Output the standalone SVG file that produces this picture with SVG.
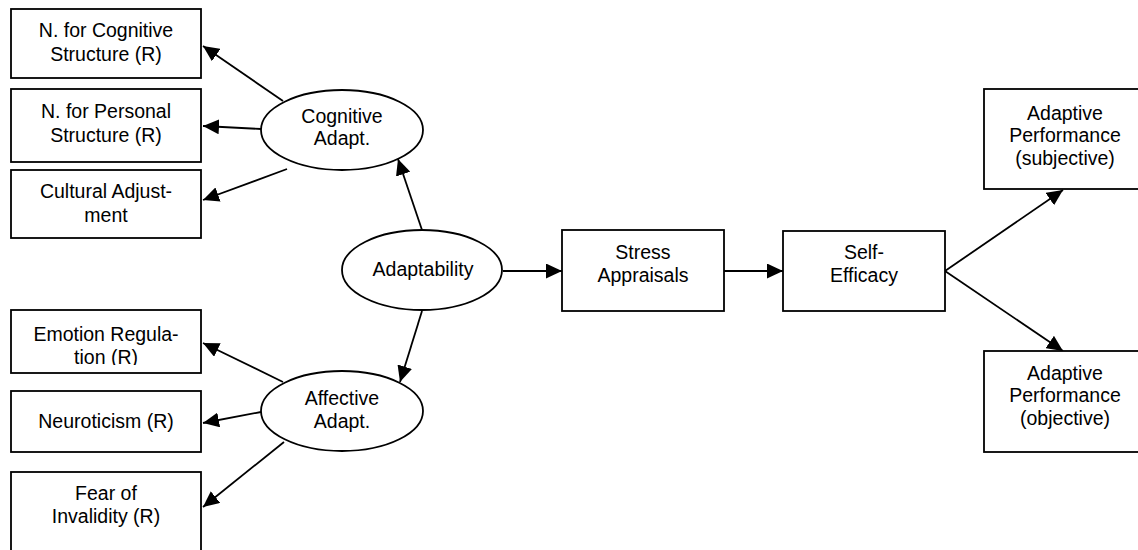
<svg xmlns="http://www.w3.org/2000/svg" width="1138" height="550" viewBox="0 0 1138 550">
  <defs>
    <style>
      .box { fill: #fff; stroke: #000; stroke-width: 1.8; }
      .ell { fill: #fff; stroke: #000; stroke-width: 1.8; }
      .lbl { font-family: "Liberation Sans", Arial, sans-serif; font-size: 19.5px; fill: #000; text-anchor: middle; }
      .edge { fill: none; stroke: #000; stroke-width: 1.8; marker-end: url(#arrow); }
    </style>
    <marker id="arrow" markerUnits="userSpaceOnUse" markerWidth="17" markerHeight="15" refX="16" refY="7.5" orient="auto">
      <path d="M0,0 L16,7.5 L0,15 Z" fill="#000"/>
    </marker>
    <clipPath id="clipEmo">
      <rect x="11" y="310" width="190" height="55"/>
    </clipPath>
  </defs>
  <rect width="1138" height="550" fill="#fff"/>

  <g id="connectors">
    <!-- Cognitive Adapt. to its indicators -->
    <line class="edge" x1="283" y1="101" x2="203" y2="46"/>
    <line class="edge" x1="261" y1="129" x2="203" y2="126"/>
    <line class="edge" x1="287" y1="169" x2="203" y2="200"/>
    <!-- Affective Adapt. to its indicators -->
    <line class="edge" x1="283" y1="382" x2="203" y2="343"/>
    <line class="edge" x1="261" y1="412" x2="203" y2="423"/>
    <line class="edge" x1="284" y1="442" x2="203" y2="507"/>
    <!-- Adaptability to facets -->
    <line class="edge" x1="422" y1="230" x2="398" y2="159"/>
    <line class="edge" x1="422" y1="311" x2="400" y2="382"/>
    <!-- main path -->
    <line class="edge" x1="503" y1="271" x2="562" y2="271"/>
    <line class="edge" x1="724" y1="271" x2="783" y2="271"/>
    <line class="edge" x1="945" y1="271" x2="1063" y2="190"/>
    <line class="edge" x1="945" y1="271" x2="1063" y2="351"/>
  </g>

  <g id="n-cog-structure">
    <rect class="box" x="11" y="9" width="190" height="69"/>
    <text class="lbl" x="106" y="37">N. for Cognitive</text>
    <text class="lbl" x="106" y="61">Structure (R)</text>
  </g>
  <g id="n-pers-structure">
    <rect class="box" x="11" y="89" width="190" height="73"/>
    <text class="lbl" x="106" y="118">N. for Personal</text>
    <text class="lbl" x="106" y="142">Structure (R)</text>
  </g>
  <g id="cultural-adjustment">
    <rect class="box" x="11" y="170" width="190" height="68"/>
    <text class="lbl" x="106" y="198">Cultural Adjust-</text>
    <text class="lbl" x="106" y="222">ment</text>
  </g>

  <g id="emotion-regulation">
    <rect class="box" x="11" y="310" width="190" height="63"/>
    <g clip-path="url(#clipEmo)">
      <text class="lbl" x="106" y="341">Emotion Regula-</text>
      <text class="lbl" x="106" y="364">tion (R)</text>
    </g>
  </g>
  <g id="neuroticism">
    <rect class="box" x="11" y="391" width="190" height="61"/>
    <text class="lbl" x="106" y="428">Neuroticism (R)</text>
  </g>
  <g id="fear-invalidity">
    <rect class="box" x="11" y="472" width="190" height="90"/>
    <text class="lbl" x="106" y="500">Fear of</text>
    <text class="lbl" x="106" y="523">Invalidity (R)</text>
  </g>

  <g id="cognitive-adapt">
    <ellipse class="ell" cx="342" cy="130" rx="81" ry="40"/>
    <text class="lbl" x="342" y="123">Cognitive</text>
    <text class="lbl" x="342" y="145">Adapt.</text>
  </g>
  <g id="affective-adapt">
    <ellipse class="ell" cx="342" cy="411" rx="81" ry="40"/>
    <text class="lbl" x="342" y="405">Affective</text>
    <text class="lbl" x="342" y="428">Adapt.</text>
  </g>
  <g id="adaptability">
    <ellipse class="ell" cx="422" cy="270" rx="80" ry="40"/>
    <text class="lbl" x="423" y="276">Adaptability</text>
  </g>

  <g id="stress-appraisals">
    <rect class="box" x="562" y="230" width="162" height="81"/>
    <text class="lbl" x="643" y="259">Stress</text>
    <text class="lbl" x="643" y="282">Appraisals</text>
  </g>
  <g id="self-efficacy">
    <rect class="box" x="783" y="231" width="162" height="80"/>
    <text class="lbl" x="864" y="259">Self-</text>
    <text class="lbl" x="864" y="282">Efficacy</text>
  </g>

  <g id="perf-subjective">
    <rect class="box" x="984" y="89" width="162" height="100"/>
    <text class="lbl" x="1065" y="120">Adaptive</text>
    <text class="lbl" x="1065" y="142">Performance</text>
    <text class="lbl" x="1065" y="165">(subjective)</text>
  </g>
  <g id="perf-objective">
    <rect class="box" x="984" y="351" width="162" height="101"/>
    <text class="lbl" x="1065" y="380">Adaptive</text>
    <text class="lbl" x="1065" y="402">Performance</text>
    <text class="lbl" x="1065" y="425">(objective)</text>
  </g>
</svg>
